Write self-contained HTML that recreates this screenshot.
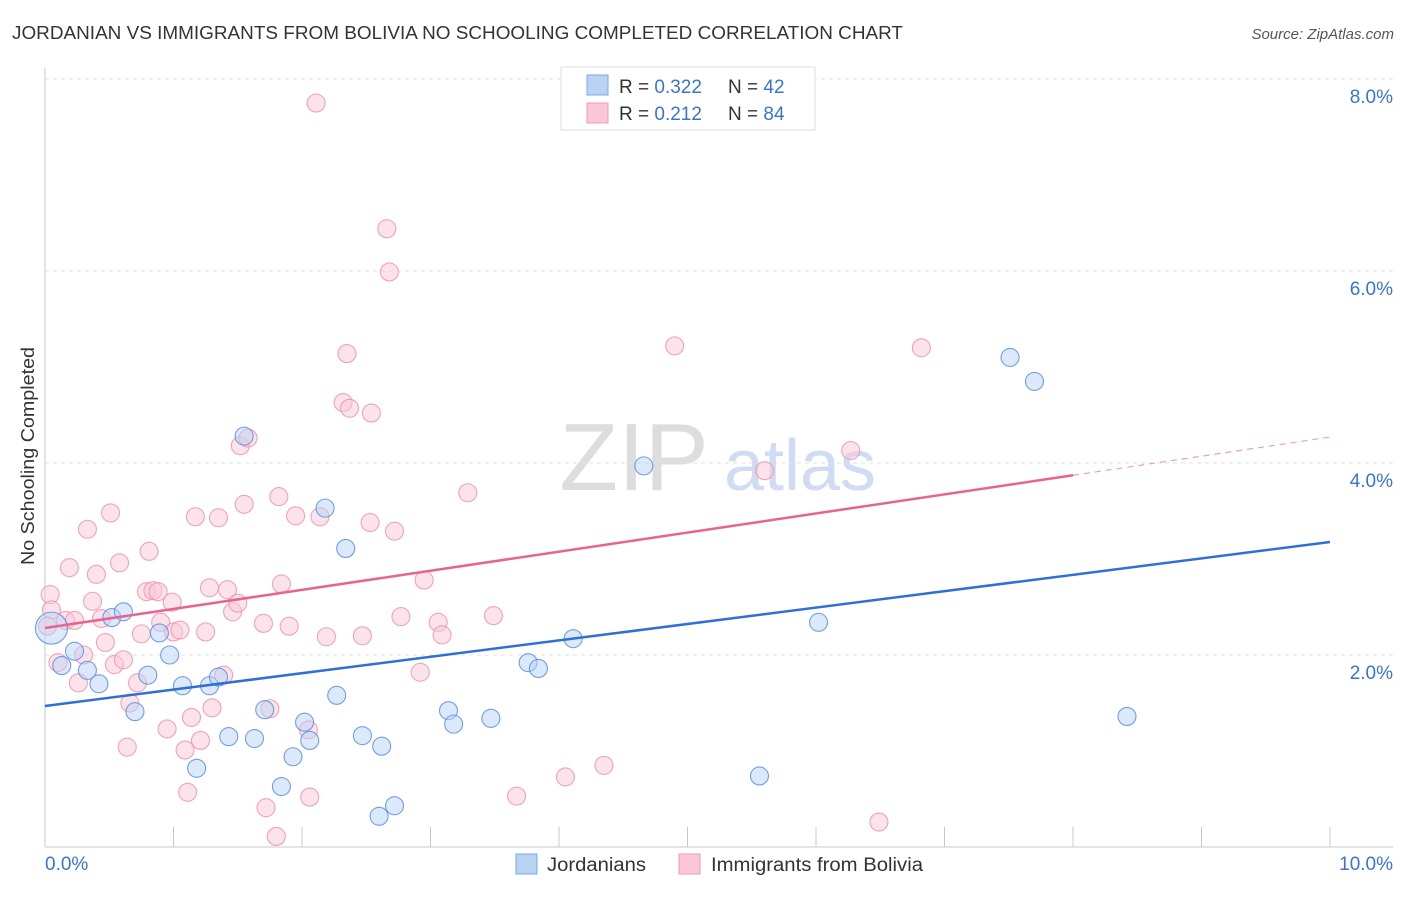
<!DOCTYPE html>
<html><head><meta charset="utf-8"><style>
body{margin:0;background:#fff;font-family:"Liberation Sans",sans-serif;}
svg text{font-family:"Liberation Sans",sans-serif;}
</style></head><body>
<svg id="chart" width="1406" height="892" xmlns="http://www.w3.org/2000/svg">
<text x="12" y="39" font-size="18" fill="#333" textLength="891" lengthAdjust="spacingAndGlyphs">JORDANIAN VS IMMIGRANTS FROM BOLIVIA NO SCHOOLING COMPLETED CORRELATION CHART</text>
<text x="1394" y="39" font-size="15" fill="#555" font-style="italic" text-anchor="end">Source: ZipAtlas.com</text>
<g>
<text x="634" y="490" font-size="96" fill="#ddd" font-family="Liberation Serif" text-anchor="middle">ZIP</text>
<text x="800" y="490" font-size="72" fill="#cfdcf3" text-anchor="middle">atlas</text>
</g>
<g id="grid"></g>
<g id="axes"></g>
<g id="pts"></g>
<g id="lines"></g>
<text transform="translate(34,456) rotate(-90)" font-size="18" fill="#333" text-anchor="middle" textLength="218" lengthAdjust="spacingAndGlyphs">No Schooling Completed</text>
<g>
<rect x="561" y="67" width="254" height="63" fill="#fff" stroke="#ddd"/>
<rect x="587" y="75" width="21" height="20" fill="#b9d3f5" stroke="#7aa7e6"/>
<rect x="587" y="103" width="21" height="20" fill="#fac7d6" stroke="#f09ab5"/>
<text x="619" y="93" font-size="19" fill="#333">R = <tspan fill="#3b73d1">0.322</tspan></text>
<text x="728" y="93" font-size="19" fill="#333">N = <tspan fill="#3b73d1">42</tspan></text>
<text x="619" y="120" font-size="19" fill="#333">R = <tspan fill="#3b73d1"> 0.212</tspan></text>
<text x="728" y="120" font-size="19" fill="#333">N = <tspan fill="#3b73d1">84</tspan></text>
</g>
<g>
<rect x="516" y="854" width="21" height="20" fill="#b9d3f5" stroke="#7aa7e6"/>
<text x="547" y="871" font-size="19" fill="#333" textLength="99" lengthAdjust="spacingAndGlyphs">Jordanians</text>
<rect x="679" y="854" width="21" height="20" fill="#fac7d6" stroke="#f09ab5"/>
<text x="711" y="871" font-size="19" fill="#333" textLength="212" lengthAdjust="spacingAndGlyphs">Immigrants from Bolivia</text>
</g>
</svg>
<script>
const blueX=[.05,.13,.23,.33,.42,.52,.61,.70,.80,.89,.97,1.07,1.18,1.28,1.35,1.43,1.55,1.63,1.71,1.84,1.93,2.02,2.06,2.18,2.27,2.34,2.47,2.60,2.62,2.72,3.14,3.18,3.47,3.76,3.84,4.11,4.66,5.56,6.02,7.51,7.70,8.42];
const blueY=[2.28,1.89,2.04,1.84,1.70,2.39,2.45,1.41,1.79,2.23,2.00,1.68,0.82,1.68,1.77,1.15,4.28,1.13,1.43,0.63,0.94,1.30,1.11,3.53,1.58,3.11,1.16,0.32,1.05,0.43,1.42,1.28,1.34,1.92,1.86,2.17,3.97,0.74,2.34,5.10,4.85,1.36];
const pinkX=[.04,.05,.02,.10,.16,.19,.23,.26,.30,.33,.37,.40,.44,.47,.51,.54,.58,.61,.64,.66,.72,.75,.79,.81,.84,.88,.90,.95,.99,1.00,1.05,1.09,1.11,1.14,1.17,1.21,1.25,1.28,1.30,1.35,1.39,1.42,1.46,1.50,1.52,1.55,1.58,1.70,1.72,1.75,1.82,1.84,1.80,1.90,1.95,2.05,2.06,2.11,2.14,2.19,2.32,2.35,2.37,2.47,2.53,2.54,2.66,2.68,2.72,2.77,2.92,2.95,3.06,3.09,3.29,3.49,3.67,4.05,4.35,4.90,5.60,6.27,6.49,6.82];
const pinkY=[2.63,2.47,2.30,1.92,2.36,2.91,2.36,1.71,2.00,3.31,2.56,2.84,2.38,2.13,3.48,1.90,2.96,1.95,1.04,1.50,1.71,2.22,2.66,3.08,2.67,2.66,2.34,1.23,2.55,2.24,2.26,1.01,0.57,1.35,3.44,1.11,2.24,2.70,1.45,3.43,1.79,2.68,2.45,2.54,4.18,3.57,4.26,2.33,0.41,1.44,3.65,2.74,0.11,2.30,3.45,1.22,0.52,7.75,3.44,2.19,4.63,5.14,4.57,2.20,3.38,4.52,6.44,5.99,3.29,2.40,1.82,2.78,2.34,2.21,3.69,2.41,0.53,0.73,0.85,5.22,3.92,4.13,0.26,5.20];
const yTicks=[2,4,6,8];
const yTickLabels=["2.0%","4.0%","6.0%","8.0%"];
const blueTrend=[1.469,3.177];
const pinkTrend=[2.281,4.27];
const NS="http://www.w3.org/2000/svg";
const sx=v=>45+v*128.5, sy=v=>847-v*96;
function mk(t,a,p){const e=document.createElementNS(NS,t);for(const k in a)e.setAttribute(k,a[k]);p.appendChild(e);return e;}
const grid=document.getElementById('grid'),axes=document.getElementById('axes'),pts=document.getElementById('pts'),lines=document.getElementById('lines');
yTicks.forEach((t,i)=>{
 const g=mk('line',{x1:45,x2:1393,y1:sy(t),y2:sy(t),stroke:'#e2e2e2','stroke-dasharray':'4,4'},grid);
 
 
 const l=mk('text',{x:1393,y:sy(t)+24,'font-size':19,fill:'#3b73d1','text-anchor':'end'},axes);
 l.textContent=yTickLabels[i];
 
 
});
mk('line',{x1:45,x2:45,y1:68,y2:847,stroke:'#c8c8c8'},axes);
mk('line',{x1:45,x2:1393,y1:847,y2:847,stroke:'#c8c8c8'},axes);
for(let i=1;i<=10;i++){const t=mk('line',{x1:sx(i),x2:sx(i),y1:827,y2:847,stroke:'#c8c8c8'},axes);}
const x0=mk('text',{x:45,y:870,'font-size':19,fill:'#3b73d1'},axes);x0.textContent='0.0%';
const x1=mk('text',{x:1393,y:870,'font-size':19,fill:'#3b73d1','text-anchor':'end'},axes);x1.textContent='10.0%';
function dots(X,Y,fill,stroke,name){X.forEach((x,i)=>{
 const r=(i==0&&name=='blue-point')?16:9;
 const c=mk('circle',{cx:sx(x),cy:sy(Y[i]),r:r,fill:fill,'fill-opacity':0.5,stroke:stroke,'stroke-width':1.1,'stroke-opacity':0.85},pts);
 
 
});}
dots(pinkX,pinkY,'#fac7d6','#ec94b0','pink-point');
dots(blueX,blueY,'#b9d3f5','#5b8fe0','blue-point');
const bl=mk('line',{x1:sx(0),y1:sy(blueTrend[0]),x2:sx(10),y2:sy(blueTrend[1]),stroke:'#2f6fd6','stroke-width':2.5},lines);


const pm=pinkTrend[0]+(pinkTrend[1]-pinkTrend[0])*0.8;
const pl=mk('line',{x1:sx(0),y1:sy(pinkTrend[0]),x2:sx(8),y2:sy(pm),stroke:'#e8638f','stroke-width':2.5},lines);


const pd=mk('line',{x1:sx(8),y1:sy(pm),x2:sx(10),y2:sy(pinkTrend[1]),stroke:'#e8a0b8','stroke-width':1.2,'stroke-dasharray':'6,5'},lines);


</script>
</body></html>
